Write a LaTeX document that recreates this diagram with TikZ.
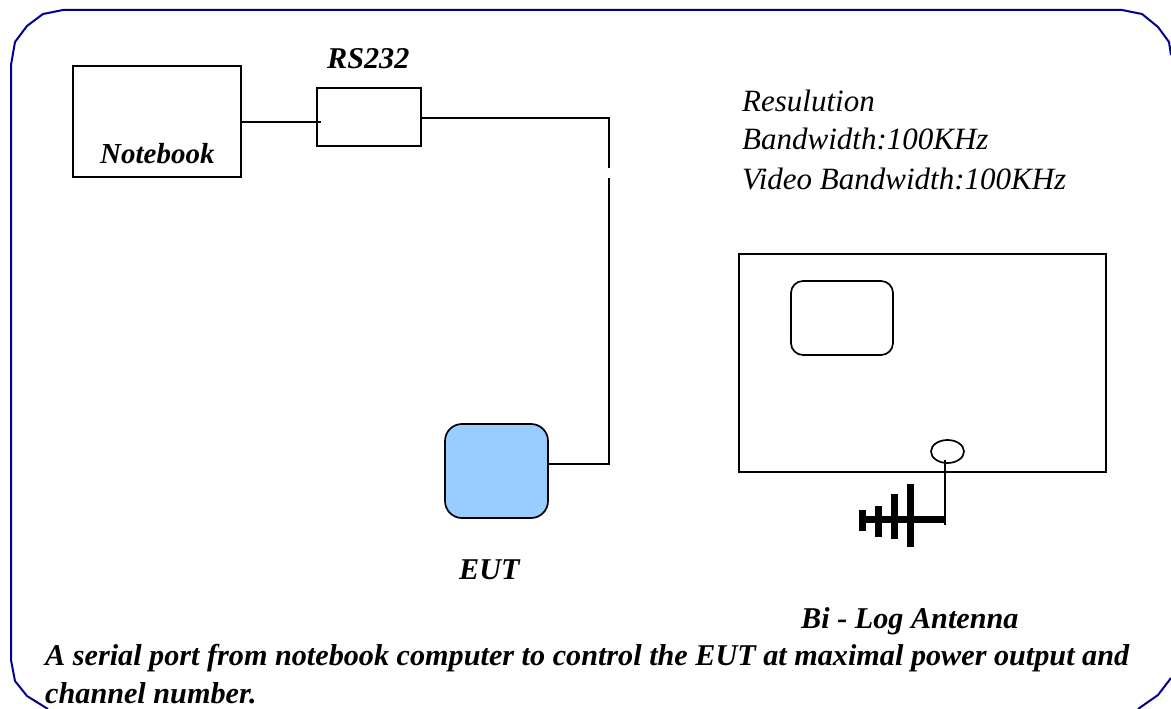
\documentclass[tikz,border=0pt]{standalone}
\usepackage{fontspec}
\setmainfont{Liberation Serif}
\usetikzlibrary{shapes.geometric}
\definecolor{framecol}{RGB}{0,0,145}
\definecolor{eutcol}{RGB}{153,204,255}
\tikzset{
  wire/.style={draw=black,line width=1.7pt},
  boxnode/.style={draw=black,line width=1.7pt,inner sep=0pt},
  boldlabel/.style={font=\fontsize{30.2}{34}\selectfont\bfseries\itshape,inner sep=0pt,anchor=base west},
  notelabel/.style={font=\fontsize{31}{34}\selectfont\itshape,inner sep=0pt,anchor=base west},
}
\begin{document}
\begin{tikzpicture}[x=1pt,y=-1pt]
\useasboundingbox (0,0) rectangle (1171,709);
% outer frame
\draw[framecol,line width=2pt] (1171,55) -- (1169,42) -- (1158,27) -- (1142,14) -- (1122,10) -- (63,10) -- (43,14) -- (27,26) -- (15,42) -- (11,65) -- (11,660) -- (15,681) -- (27,696) -- (48,709);
\draw[framecol,line width=2pt] (1171,678) -- (1158,695) -- (1138,709);
% boxes
\node[boxnode,minimum width=168pt,minimum height=111pt] (notebook) at (157,121.5) {};
\node[boxnode,minimum width=104pt,minimum height=58pt] (rs) at (369,117) {};
\node[boxnode,fill=eutcol,rounded corners=17pt,minimum width=103pt,minimum height=94pt] (eut) at (496.5,471) {};
\node[boxnode,minimum width=367pt,minimum height=218pt] (analyzer) at (922.5,363) {};
\node[boxnode,rounded corners=12pt,minimum width=102pt,minimum height=74pt] (screen) at (842,318) {};
\node[boxnode,ellipse,minimum width=33pt,minimum height=23pt] (port) at (947.5,451.5) {};
% wires
\coordinate (gapa) at (609,168);
\coordinate (gapb) at (609,178);
\coordinate (mast) at (945,525);
\draw[wire] (notebook.east |- 0,122) -- (321,122);
\draw[wire] (rs.east |- 0,118) -- (609,118) -- (gapa);
\draw[wire] (gapb) -- (609,464) -- (eut.east |- 0,464);
\draw[wire] (945,460) -- (mast);
% antenna
\coordinate (tip) at (860,519.5);
\draw[line width=6.5pt] (tip) -- (945,519.5);
\foreach \xa/\ya/\yb in {862.5/510/531,878.5/506/537,894.5/494/539,910.5/484/547}
  \draw[line width=7pt] (\xa,\ya) -- (\xa,\yb);
% labels
\node[boldlabel,font=\fontsize{29}{32}\selectfont\bfseries\itshape] (notebooktxt) at (100,163) {Notebook};
\node[boldlabel] (rstxt) at (327,69) {RS232};
\node[boldlabel] (euttxt) at (459,579) {EUT};
\node[boldlabel] (anttxt) at (801,628) {Bi - Log Antenna};
\node[notelabel] (restxt) at (742,112) {Resulution};
\node[notelabel] (bwtxt) at (742,149) {Bandwidth:100KHz};
\node[notelabel] (vbtxt) at (742,189) {Video Bandwidth:100KHz};
\node[boldlabel] (capa) at (45,665) {A serial port from notebook computer to control the EUT at maximal power output and};
\node[boldlabel] (capb) at (45,703) {channel number.};
\end{tikzpicture}
\end{document}
